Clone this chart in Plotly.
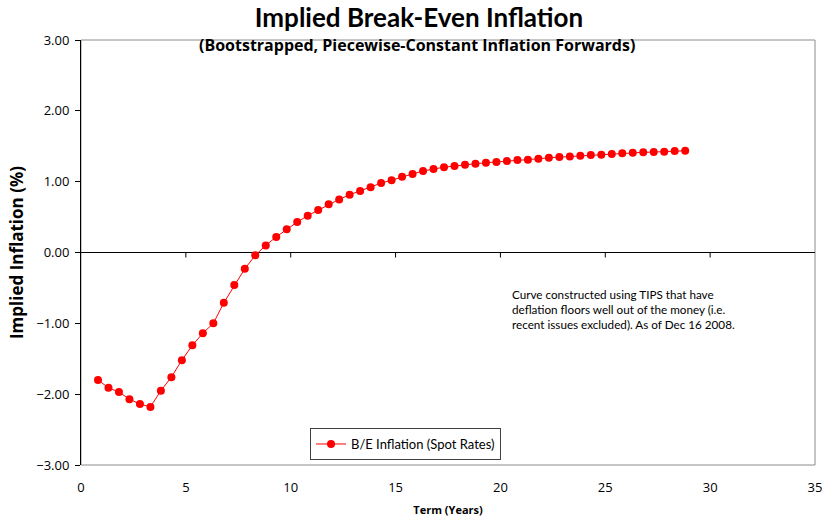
import plotly.graph_objects as go

# Term to maturity (years) and implied break-even inflation (%)
term_years = [0.81, 1.31, 1.81, 2.31, 2.81, 3.31, 3.81, 4.31, 4.81, 5.31,
              5.81, 6.31, 6.81, 7.31, 7.81, 8.31, 8.81, 9.31, 9.81, 10.31,
              10.81, 11.31, 11.81, 12.31, 12.81, 13.31, 13.81, 14.31, 14.81, 15.31,
              15.81, 16.31, 16.81, 17.31, 17.81, 18.31, 18.81, 19.31, 19.81, 20.31,
              20.81, 21.31, 21.81, 22.31, 22.81, 23.31, 23.81, 24.31, 24.81, 25.31,
              25.81, 26.31, 26.81, 27.31, 27.81, 28.31, 28.81]
breakeven = [-1.80, -1.91, -1.97, -2.07, -2.14, -2.18, -1.95, -1.76, -1.52, -1.31,
             -1.14, -1.00, -0.71, -0.46, -0.23, -0.04, 0.10, 0.22, 0.33, 0.43,
             0.52, 0.60, 0.68, 0.75, 0.815, 0.87, 0.92, 0.98, 1.02, 1.07,
             1.11, 1.15, 1.18, 1.205, 1.22, 1.24, 1.253, 1.267, 1.277, 1.291,
             1.305, 1.31, 1.323, 1.338, 1.347, 1.357, 1.366, 1.376, 1.38, 1.39,
             1.40, 1.408, 1.414, 1.418, 1.422, 1.432, 1.436]

x_ticks = [0, 5, 10, 15, 20, 25, 30, 35]
y_ticks = [3, 2, 1, 0, -1, -2, -3]

FONT = "Lato"
FONT_WIDE = "Open Sans"

fig = go.Figure()
fig.add_trace(go.Scatter(
    x=term_years, y=breakeven, mode="lines+markers",
    name="B/E Inflation (Spot Rates)",
    line=dict(color="#ff0000", width=1),
    marker=dict(color="#ff0000", size=8),
))

# plot-area frame (grey)
fig.add_shape(type="rect", xref="paper", yref="paper", x0=0, x1=1, y0=0, y1=1,
              line=dict(color="#8c8c8c", width=1), layer="below")
# small tick marks hanging below the zero line
for t in x_ticks[1:-1]:
    fig.add_shape(type="line", xref="x", yref="y", ysizemode="pixel", yanchor=0,
                  x0=t, x1=t, y0=0, y1=-5, line=dict(color="black", width=1))

fig.add_annotation(
    text="Curve constructed using TIPS that have<br>deflation floors well out of the money (i.e.<br>recent issues excluded). As of Dec 16 2008.",
    xref="x", yref="y", x=20.45, y=-0.46, xanchor="left", yanchor="top",
    align="left", showarrow=False, font=dict(family=FONT, size=11.7, color="#000000"),
)
fig.add_annotation(
    text="<b>(Bootstrapped, Piecewise-Constant Inflation Forwards)</b>",
    xref="paper", yref="paper", x=0.458, y=1.0, xanchor="center", yanchor="middle",
    yshift=-5, showarrow=False, font=dict(family=FONT_WIDE, size=16, color="#000000"),
)

fig.update_layout(
    width=838, height=519,
    margin=dict(l=81, r=23, t=40, b=54),
    paper_bgcolor="white", plot_bgcolor="white",
    title=dict(text="<b>Implied Break-Even Inflation</b>", x=0.5, xanchor="center",
               y=0.965, yanchor="middle", font=dict(family=FONT, size=26, color="#000000")),
    font=dict(family=FONT, color="#000000"),
    showlegend=True,
    legend=dict(x=0.312, y=0.087, xanchor="left", yanchor="top",
                bordercolor="#404040", borderwidth=1, bgcolor="white",
                font=dict(family=FONT, size=13), itemwidth=30,
                tracegroupgap=0),
    xaxis=dict(range=[0, 35], tickvals=x_ticks, ticks="", showgrid=False,
               zeroline=False, showline=False, ticklabelstandoff=13, automargin=False,
               tickfont=dict(family=FONT_WIDE, size=13, color="#000000"),
               title=dict(text="<b>Term (Years)</b>", font=dict(family=FONT_WIDE, size=11), standoff=11)),
    yaxis=dict(range=[-3, 3], tickvals=y_ticks, tickformat=".2f", ticks="outside",
               ticklen=5, tickcolor="black", showgrid=False, ticklabelstandoff=3,
               automargin=False,
               zeroline=True, zerolinecolor="black", zerolinewidth=1,
               showline=True, linecolor="black", linewidth=1,
               tickfont=dict(family=FONT_WIDE, size=13, color="#000000"),
               title=dict(text="<b>Implied Inflation (%)</b>", font=dict(family=FONT_WIDE, size=17), standoff=8)),
)

fig.write_html("out.html")
